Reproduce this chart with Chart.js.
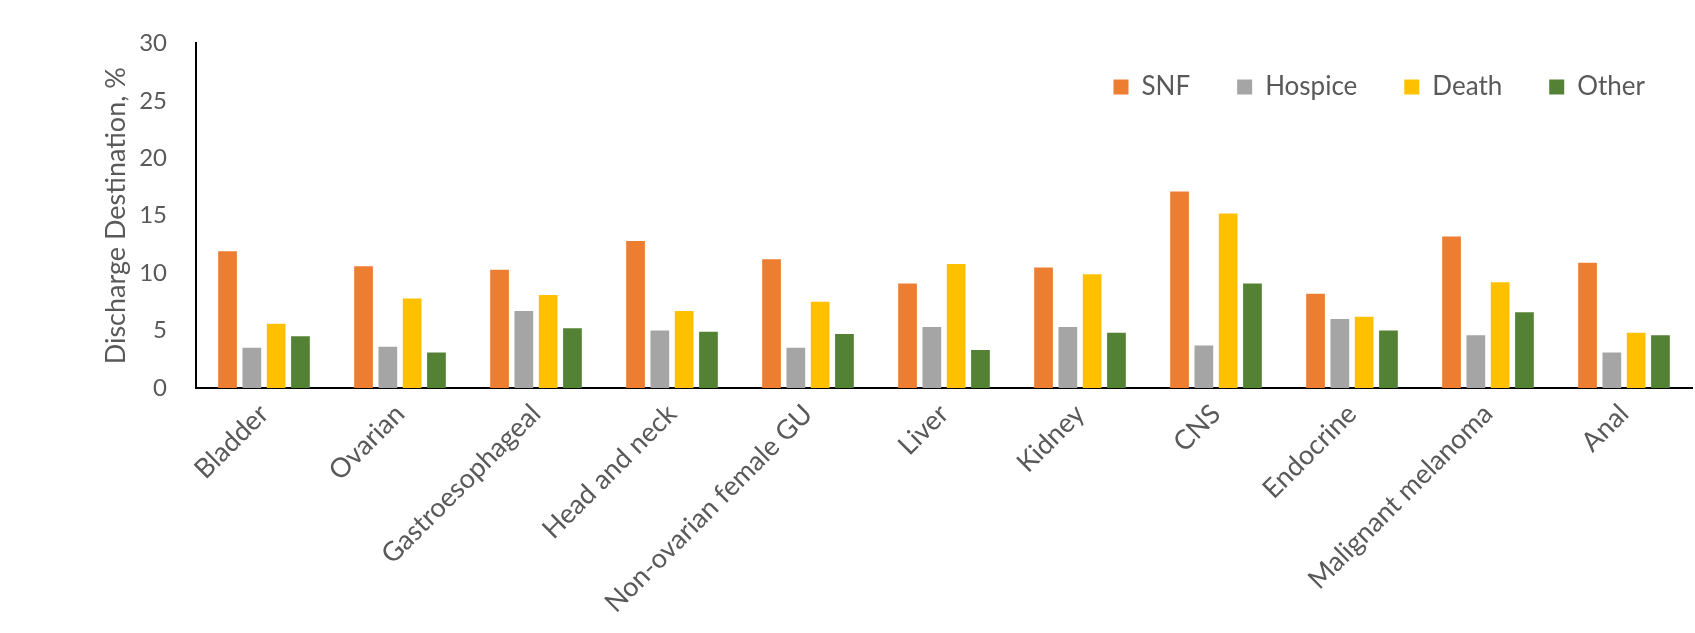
<!DOCTYPE html>
<html>
<head>
<meta charset="utf-8">
<script src="https://cdn.jsdelivr.net/npm/chart.js@4/dist/chart.umd.min.js"></script>
<style>
  body { margin: 0; background: #fff; }
  #wrap { width: 1695px; height: 633px; }
</style>
</head>
<body>
<div id="wrap"><canvas id="myChart"></canvas></div>
<script>
const cancerTypes = ['Bladder', 'Ovarian', 'Gastroesophageal', 'Head and neck', 'Non-ovarian female GU',
    'Liver', 'Kidney', 'CNS', 'Endocrine', 'Malignant melanoma', 'Anal'];
const snf     = [11.9, 10.6, 10.3, 12.8, 11.2, 9.1, 10.5, 17.1, 8.2, 13.2, 10.9];
const hospice = [3.5, 3.6, 6.7, 5.0, 3.5, 5.3, 5.3, 3.7, 6.0, 4.6, 3.1];
const death   = [5.6, 7.8, 8.1, 6.7, 7.5, 10.8, 9.9, 15.2, 6.2, 9.2, 4.8];
const other   = [4.5, 3.1, 5.2, 4.9, 4.7, 3.3, 4.8, 9.1, 5.0, 6.6, 4.6];
const yTicks  = [0, 5, 10, 15, 20, 25, 30];

const textColor = '#595959';
const fontFamily = 'Lato, "Open Sans", sans-serif';

const makeSet = (label, data, color) => ({
    label: label,
    data: data,
    backgroundColor: color,
    borderWidth: 0,
    categoryPercentage: 0.715,
    barPercentage: 0.77
});

// legend sits over the plot: no height in the layout, real height back before drawing
const floatingLegend = {
    id: 'floatingLegend',
    afterInit(chart) {
        const legend = chart.legend;
        const fit = legend.fit.bind(legend);
        legend.fit = function () {
            fit();
            this._realHeight = this.height;
            this.height = 0;
        };
    },
    afterLayout(chart) {
        const legend = chart.legend;
        legend.top = 27;
        legend.height = legend._realHeight;
        legend.bottom = legend.top + legend.height;
    }
};

const ctx = document.getElementById('myChart');
const barChart = new Chart(ctx, {
    type: 'bar',
    data: {
        labels: cancerTypes,
        datasets: [
            makeSet('SNF', snf, '#ED7D31'),
            makeSet('Hospice', hospice, '#A5A5A5'),
            makeSet('Death', death, '#FFC000'),
            makeSet('Other', other, '#548235')
        ]
    },
    plugins: [floatingLegend],
    options: {
        responsive: true,
        maintainAspectRatio: false,
        animation: false,
        layout: {
            padding: { top: 27, left: 0, right: 3, bottom: 0 }
        },
        plugins: {
            tooltip: { enabled: false },
            legend: {
                position: 'top',
                align: 'end',
                labels: {
                    boxWidth: 15,
                    boxHeight: 15,
                    padding: 47,
                    color: textColor,
                    font: { family: fontFamily, size: 26 }
                }
            }
        },
        scales: {
            x: {
                grid: { display: false, drawTicks: false },
                border: { color: '#000', width: 2 },
                ticks: {
                    color: textColor,
                    maxRotation: 45,
                    minRotation: 45,
                    padding: 10,
                    autoSkip: false,
                    font: { family: fontFamily, size: 27 }
                },
                afterFit: (scale) => { scale.height = 245; }
            },
            y: {
                min: 0,
                max: 30,
                afterBuildTicks: (scale) => {
                    scale.ticks = yTicks.map(v => ({ value: v }));
                },
                grid: { display: false, drawTicks: false },
                border: { color: '#000', width: 2 },
                ticks: {
                    color: textColor,
                    padding: 29,
                    font: { family: fontFamily, size: 24 }
                },
                title: {
                    display: true,
                    text: 'Discharge Destination, %',
                    color: textColor,
                    padding: { top: 100, bottom: 10 },
                    font: { family: fontFamily, size: 27 }
                },
                afterFit: (scale) => { scale.width = 196; }
            }
        }
    }
});
</script>
</body>
</html>
